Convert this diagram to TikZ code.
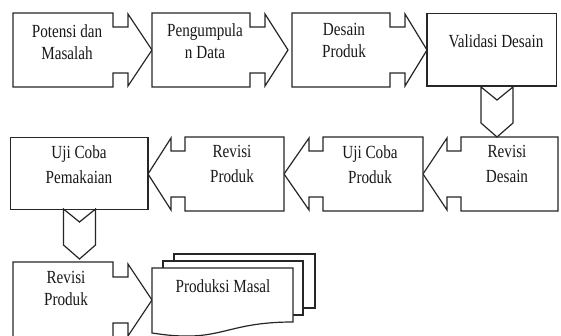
\documentclass[tikz,border=0pt]{standalone}
\usepackage{fontspec}
\newfontfamily\dfont{Liberation Serif}[FakeStretch=0.82]
\tikzset{
  shp/.style={draw=black!85, line width=1.2pt, fill=white, line join=miter},
  lbl/.style={font=\dfont\fontsize{18.5}{22}\selectfont, align=center, inner sep=0pt, anchor=north, text=black!90},
  lbltwo/.style={lbl, font=\dfont\fontsize{18.5}{25}\selectfont},
}
% right-pointing callout: L R P(tip) T B
\newcommand\myRCall[5]{%
  \draw[shp] (#1,#4) -- (#2,#4) -- (#2,{(#4+#5)/2-23}) -- ({#2+15},{(#4+#5)/2-23})
    -- ({#2+15},{(#4+#5)/2-36}) -- (#3,{(#4+#5)/2}) -- ({#2+15},{(#4+#5)/2+36})
    -- ({#2+15},{(#4+#5)/2+23}) -- (#2,{(#4+#5)/2+23}) -- (#2,#5) -- (#1,#5) -- cycle;}
% left-pointing callout: L R P(tip) T B
\newcommand\myLCall[5]{%
  \draw[shp] (#2,#4) -- (#1,#4) -- (#1,{(#4+#5)/2-23}) -- ({#1-14},{(#4+#5)/2-23})
    -- ({#1-14},{(#4+#5)/2-36}) -- (#3,{(#4+#5)/2}) -- ({#1-14},{(#4+#5)/2+36})
    -- ({#1-14},{(#4+#5)/2+23}) -- (#1,{(#4+#5)/2+23}) -- (#1,#5) -- (#2,#5) -- cycle;}
% plain box: L R T B
\newcommand\myBox[4]{%
  \fill[white] (#1,#3) rectangle (#2,#4);
  \draw[shp, fill=none] (#1,#3) -- (#2,#3) -- (#2,#4) -- (#1,#4) -- (#1,{#3+0.01}) -- cycle;}
% downward chevron: centre x, top y, tip y
\newcommand\myDChev[3]{%
  \draw[shp] ({#1-16},#2) -- (#1,{#2+13}) -- ({#1+16},#2) -- ({#1+16},{#3-14})
    -- (#1,#3) -- ({#1-16},{#3-14}) -- cycle;}
\begin{document}
\begin{tikzpicture}[x=1pt,y=-1pt]
\fill[white] (0,0) rectangle (561,336);
\useasboundingbox (0,0) rectangle (561,336);
% row 1
\myRCall{13}{113}{152}{13}{87}
\myRCall{152}{250}{288}{13}{87}
\myRCall{292}{390}{427}{13}{87}
\myBox{427}{556.5}{13.5}{86}
% row 2
\myLCall{461}{558}{423}{137}{211}
\myLCall{323}{423}{284}{137}{211}
\myLCall{185}{284}{148}{137}{211}
\myBox{10.5}{148}{137.5}{209.5}
% row 3
\myRCall{13}{113}{152}{262}{338}
% multi-document
\myBox{174}{315}{254}{308}
\myBox{163}{303}{261}{315}
\draw[shp] (152,268) -- (293,268) -- (293,322) .. controls (222,322) and (222,344) .. (152,333) -- cycle;
% chevrons
\myDChev{497}{87}{137}
\myDChev{79.5}{209}{259}
% labels
\node[lbl] (t1) at (67,24.5) {Potensi dan\\Masalah};
\node[lbl] (t2) at (205,23.5) {Pengumpula\\n Data};
\node[lbl] (t3) at (344,23.5) {Desain\\Produk};
\node[lbl] (t4) at (496,34.5) {Validasi Desain};
\node[lbltwo] (t5) at (507,145) {Revisi\\Desain};
\node[lbltwo] (t6) at (370,145) {Uji Coba\\Produk};
\node[lbltwo] (t7) at (232,145) {Revisi\\Produk};
\node[lbltwo] (t8) at (79,145.5) {Uji Coba\\Pemakaian};
\node[lbl] (t9) at (66,271.5) {Revisi\\Produk};
\node[lbl] (t10) at (223,279.5) {Produksi Masal};
\end{tikzpicture}
\end{document}
